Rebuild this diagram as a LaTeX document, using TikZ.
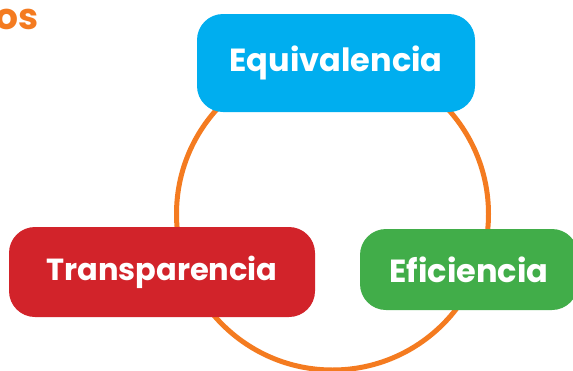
\documentclass[tikz,border=0pt]{standalone}
\usepackage{fontspec}
\setmainfont{Poppins}
\usepackage{tikz}
\usetikzlibrary{positioning}
\definecolor{RING}{HTML}{F47B20}
\definecolor{EQUI}{HTML}{00AEEF}
\definecolor{TRANS}{HTML}{D2232A}
\definecolor{EFI}{HTML}{41AD49}

\begin{document}
\begin{tikzpicture}[
    x=1pt, y=-1pt,
    ring/.style={draw=RING, line width=5pt},
    pill/.style={text=white, rounded corners=26pt, inner sep=0pt,
      font=\fontsize{32}{32}\selectfont\bfseries},
    title/.style={text=RING, inner sep=0pt,
      font=\fontsize{36}{36}\selectfont\bfseries},
  ]

  \def\rr{156}   % ring radius
  \clip (0,0) rectangle (573,370);

  % --- ring ---
  \draw[ring] (332.5,214) circle[radius=\rr];

  % --- boxes ---
  \node[pill, fill=EQUI, minimum width=278pt, minimum height=98pt]
    (equi) at (336,63) {Equivalencia};
  \node[pill, fill=TRANS, minimum width=306pt, minimum height=90pt,
    font=\fontsize{30.5}{30.5}\selectfont\bfseries]
    (trans) at (162,272) {Transparencia};
  \node[pill, fill=EFI, minimum width=218pt, minimum height=81pt]
    (efi) at (469,269.5) {Eficiencia};

  % cut-off heading
  \node[title, anchor=north east] (head) at (38.5,9) {os};

\end{tikzpicture}
\end{document}
